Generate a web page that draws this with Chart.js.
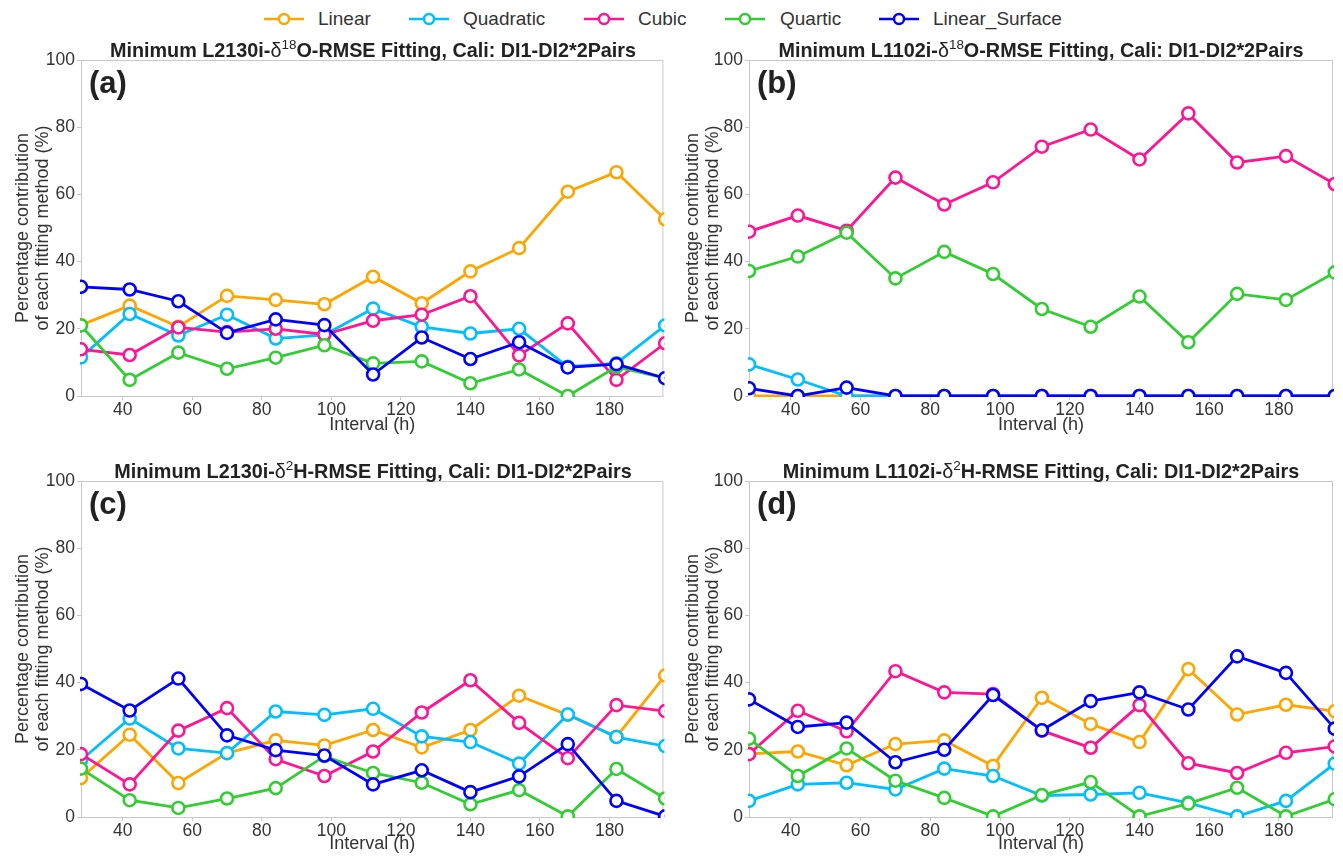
<!DOCTYPE html>
<html>
<head>
<meta charset="utf-8">
<script src="https://cdn.jsdelivr.net/npm/chart.js@4"></script>
<style>
  html, body { margin: 0; padding: 0; background: #fff; overflow: hidden; }
  body { width: 1343px; height: 859px; position: relative; font-family: 'Liberation Sans', Arial, sans-serif; color: #333; }
  .panel { position: absolute; }
  .ptitle { position: absolute; font-weight: bold; font-size: 19.8px; color: #222; white-space: nowrap; transform: translate(-50%, -50%); }
  .ptitle .m { font-weight: normal; }
  .ptitle sup { font-size: 0.68em; font-weight: normal; vertical-align: 0.55em; line-height: 0; }
  .leg { position: absolute; top: 8px; height: 22px; font-size: 19px; color: #333; white-space: nowrap; }
  .leg svg { position: absolute; left: 0; top: 0; }
  .leg span { position: absolute; top: 0; line-height: 22px; }
</style>
</head>
<body>
<div id="legend"></div>
<div class="panel" style="left:0;top:40px;width:672px;height:400px"><canvas id="ca"></canvas></div>
<div class="panel" style="left:670px;top:40px;width:673px;height:400px"><canvas id="cb"></canvas></div>
<div class="panel" style="left:0;top:461px;width:672px;height:398px"><canvas id="cc"></canvas></div>
<div class="panel" style="left:670px;top:461px;width:673px;height:398px"><canvas id="cd"></canvas></div>
<div class="ptitle" style="left:373px;top:50px">Minimum L2130i-<span class="m">δ<sup>18</sup></span>O-RMSE Fitting, Cali: DI1-DI2*2Pairs</div>
<div class="ptitle" style="left:1041px;top:50px">Minimum L1102i-<span class="m">δ<sup>18</sup></span>O-RMSE Fitting, Cali: DI1-DI2*2Pairs</div>
<div class="ptitle" style="left:373px;top:471px">Minimum L2130i-<span class="m">δ<sup>2</sup></span>H-RMSE Fitting, Cali: DI1-DI2*2Pairs</div>
<div class="ptitle" style="left:1041px;top:471px">Minimum L1102i-<span class="m">δ<sup>2</sup></span>H-RMSE Fitting, Cali: DI1-DI2*2Pairs</div>
<script>
const intervals = [28, 42, 56, 70, 84, 98, 112, 126, 140, 154, 168, 182, 196];
const xTicks = [40, 60, 80, 100, 120, 140, 160, 180];
const yTicks = [0, 20, 40, 60, 80, 100];
const methods = ['Linear', 'Quadratic', 'Cubic', 'Quartic', 'Linear_Surface'];
const colors = ['#FFA500', '#00BFFF', '#FF1493', '#32CD32', '#0000FF'];

// (a) L2130i d18O
const a_linear    = [21.1, 26.9, 20.6, 29.8, 28.6, 27.3, 35.5, 27.6, 37.1, 44.0, 60.8, 66.6, 52.6];
const a_quadratic = [11.5, 24.4, 18.0, 24.2, 17.1, 18.2, 26.0, 20.6, 18.6, 20.0, 8.7, 9.7, 21.0];
const a_cubic     = [13.9, 12.2, 20.4, 19.0, 20.0, 18.3, 22.4, 24.2, 29.7, 12.1, 21.6, 4.8, 15.7];
const a_quartic   = [21.0, 4.8, 12.9, 8.1, 11.4, 15.1, 9.7, 10.3, 3.8, 7.9, 0.0, 8.7, 5.3];
const a_surface   = [32.5, 31.7, 28.2, 18.8, 22.8, 21.1, 6.4, 17.4, 11.0, 16.0, 8.5, 9.5, 5.3];

// (b) L1102i d18O
const b_linear    = [0, 0, 0, 0, 0, 0, 0, 0, 0, 0, 0, 0, 0];
const b_quadratic = [9.4, 4.9, 0, 0, 0, 0, 0, 0, 0, 0, 0, 0, 0];
const b_cubic     = [48.9, 53.7, 49.2, 65.0, 57.0, 63.6, 74.2, 79.3, 70.4, 84.1, 69.5, 71.4, 63.1];
const b_quartic   = [37.2, 41.5, 48.6, 35.0, 42.9, 36.3, 25.9, 20.6, 29.6, 16.0, 30.4, 28.6, 36.8];
const b_surface   = [2.3, 0, 2.5, 0, 0, 0, 0, 0, 0, 0, 0, 0, 0];

// (c) L2130i d2H
const c_linear    = [11.6, 24.5, 10.1, 19.0, 22.8, 21.3, 25.9, 20.7, 25.9, 36.1, 30.4, 23.9, 42.1];
const c_quadratic = [16.9, 29.3, 20.4, 19.0, 31.4, 30.4, 32.2, 24.0, 22.3, 15.9, 30.5, 23.8, 21.1];
const c_cubic     = [18.7, 9.7, 25.7, 32.4, 17.2, 12.2, 19.5, 31.1, 40.7, 28.0, 17.5, 33.3, 31.5];
const c_quartic   = [14.4, 5.0, 2.7, 5.5, 8.6, 18.1, 13.1, 10.2, 3.8, 8.0, 0.2, 14.3, 5.5];
const c_surface   = [39.6, 31.7, 41.2, 24.3, 19.9, 18.3, 9.7, 13.9, 7.4, 12.1, 21.7, 4.8, 0.2];

// (d) L1102i d2H
const d_linear    = [18.8, 19.5, 15.4, 21.7, 22.8, 15.2, 35.5, 27.7, 22.3, 44.0, 30.5, 33.4, 31.5];
const d_quadratic = [4.8, 9.7, 10.2, 8.2, 14.4, 12.2, 6.4, 6.7, 7.2, 4.2, 0.2, 4.8, 15.9];
const d_cubic     = [18.7, 31.6, 25.5, 43.4, 37.1, 36.6, 25.7, 20.6, 33.3, 16.0, 13.1, 19.1, 21.0];
const d_quartic   = [23.3, 12.2, 20.4, 10.8, 5.7, 0.2, 6.5, 10.4, 0.2, 4.0, 8.7, 0.2, 5.3];
const d_surface   = [35.0, 26.8, 28.1, 16.3, 20.0, 36.3, 25.8, 34.5, 37.1, 32.0, 47.8, 42.9, 26.3];

const FONT = "'Liberation Sans', Arial, sans-serif";
const TEXT = '#333';
const AXIS = '#c8c8c8';

// legend (html)
const legendPos = [[263, 318], [408, 463], [583, 638], [724, 780], [878, 933]];
const legendEl = document.getElementById('legend');
methods.forEach((m, i) => {
  const d = document.createElement('div');
  d.className = 'leg';
  d.style.left = legendPos[i][0] + 'px';
  d.innerHTML = '<svg width="42" height="22"><line x1="1" y1="11" x2="41" y2="11" stroke="' + colors[i] +
    '" stroke-width="2.5"/><circle cx="21" cy="11" r="5" fill="#fff" stroke="' + colors[i] + '" stroke-width="2.5"/></svg>' +
    '<span style="left:' + (legendPos[i][1] - legendPos[i][0]) + 'px">' + m + '</span>';
  legendEl.appendChild(d);
});

const frame = {
  id: 'frame',
  beforeDatasetsDraw(chart) {
    const a = chart.chartArea, ctx = chart.ctx;
    ctx.save();
    ctx.strokeStyle = AXIS;
    ctx.lineWidth = 1;
    ctx.strokeRect(a.left + 0.5, a.top + 0.5, a.right - a.left - 1, a.bottom - a.top);
    ctx.restore();
  },
  afterDraw(chart) {
    const a = chart.chartArea, ctx = chart.ctx;
    ctx.save();
    ctx.fillStyle = '#222';
    ctx.font = 'bold 31px ' + FONT;
    ctx.textBaseline = 'middle';
    ctx.fillText(chart.options.plugins.frame.label, a.left + 8, a.top + 24);
    ctx.restore();
  }
};

function makeChart(id, label, series, yScaleW, padRight, xScaleH) {
  const datasets = series.map((vals, i) => ({
    label: methods[i],
    data: intervals.map((x, k) => ({x: x, y: vals[k]})),
    borderColor: colors[i],
    backgroundColor: '#fff',
    pointBackgroundColor: '#fff',
    pointBorderColor: colors[i],
    borderWidth: 2.8,
    pointRadius: 6,
    pointBorderWidth: 2.6,
    order: methods.length - i,
    clip: 1
  }));
  return new Chart(document.getElementById(id), {
    type: 'line',
    data: {datasets},
    plugins: [frame],
    options: {
      responsive: true,
      maintainAspectRatio: false,
      animation: false,
      layout: {padding: {top: 20, right: padRight, left: 0, bottom: 0}},
      plugins: {legend: {display: false}, tooltip: {enabled: false}, frame: {label: label}},
      scales: {
        x: {
          type: 'linear', min: 28, max: 195.5,
          grid: {drawOnChartArea: false, drawTicks: true, tickLength: 4, color: AXIS},
          border: {display: false},
          afterBuildTicks: s => { s.ticks = xTicks.map(v => ({value: v})); },
          afterFit: s => { s.height = xScaleH; },
          ticks: {color: TEXT, font: {family: FONT, size: 17.5}, padding: 0, maxRotation: 0, autoSkip: false},
          title: {display: true, text: 'Interval (h)', color: TEXT, font: {family: FONT, size: 18, lineHeight: 1.2}, padding: {top: 0, bottom: 4}}
        },
        y: {
          min: 0, max: 100,
          grid: {drawOnChartArea: false, drawTicks: true, tickLength: 4, color: AXIS},
          border: {display: false},
          afterBuildTicks: s => { s.ticks = yTicks.map(v => ({value: v})); },
          afterFit: s => { s.width = yScaleW; },
          ticks: {color: TEXT, font: {family: FONT, size: 17.5}, padding: 2},
          title: {display: true, text: ['Percentage contribution', 'of each fitting method (%)'], color: TEXT,
                  font: {family: FONT, size: 18, lineHeight: 1.1}, padding: {top: 13, bottom: 0}}
        }
      }
    }
  });
}

makeChart('ca', '(a)', [a_linear, a_quadratic, a_cubic, a_quartic, a_surface], 81, 7, 44);
makeChart('cb', '(b)', [b_linear, b_quadratic, b_cubic, b_quartic, b_surface], 79, 10, 44);
makeChart('cc', '(c)', [c_linear, c_quadratic, c_cubic, c_quartic, c_surface], 81, 7, 42);
makeChart('cd', '(d)', [d_linear, d_quadratic, d_cubic, d_quartic, d_surface], 79, 10, 42);
</script>
</body>
</html>
